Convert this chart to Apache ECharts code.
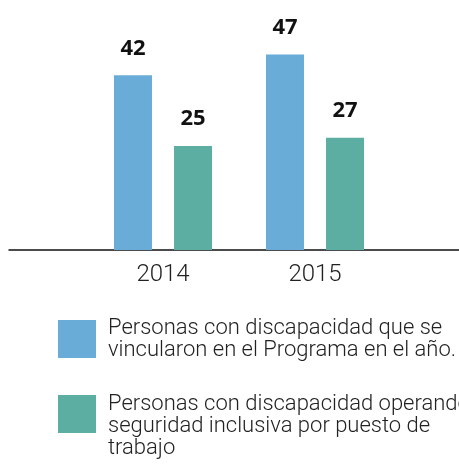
<!DOCTYPE html>
<html>
<head>
    <meta charset="utf-8">
    <title>ECharts</title>
    <script src="https://cdn.jsdelivr.net/npm/echarts@6/dist/echarts.min.js"></script>
    <style>
        html, body { margin: 0; padding: 0; background: #fff; }
    </style>
</head>
<body>
    <div id="main" style="width: 459px;height:464px;"></div>
    <script type="text/javascript">
        var years = ['2014', '2015'];
        var vinculados = [42, 47];
        var operando = [25, 27];
        var nameVinculados = 'Personas con discapacidad que se\nvincularon en el Programa en el año.';
        var nameOperando = 'Personas con discapacidad operando\nseguridad inclusiva por puesto de\ntrabajo';

        var textFont = 'Roboto, sans-serif';
        var numFont = '"Open Sans", sans-serif';
        var myChart = echarts.init(document.getElementById('main'));

        var legendText = {
            color: '#222',
            fontFamily: textFont,
            fontWeight: 300,
            fontSize: 22,
            lineHeight: 22,
            padding: [0, 0, 0, 7],
            rich: {
                p: { lineHeight: 24, fontSize: 1 }
            }
        };

        var barLabel = {
            show: true,
            position: 'top',
            distance: 16,
            color: '#111',
            fontFamily: numFont,
            fontWeight: 'bold',
            fontSize: 22
        };

        var option = {
            animation: false,
            grid: [
                { left: 87, right: 68, top: 42, bottom: 214 },
                { left: 9, right: 0, top: 42, bottom: 214 }
            ],
            legend: [
                {
                    data: [nameVinculados],
                    left: 58,
                    top: 317,
                    itemWidth: 38,
                    itemHeight: 38,
                    icon: 'rect',
                    padding: 0,
                    textStyle: legendText
                },
                {
                    data: [nameOperando],
                    left: 58,
                    top: 369,
                    itemWidth: 38,
                    itemHeight: 38,
                    icon: 'rect',
                    padding: 0,
                    formatter: function (name) {
                        return '{p|}\n' + name;
                    },
                    textStyle: legendText
                }
            ],
            xAxis: [
                {
                    type: 'category',
                    gridIndex: 0,
                    data: years,
                    axisLine: { show: false },
                    axisTick: { show: false },
                    axisLabel: {
                        color: '#222',
                        fontFamily: textFont,
                        fontWeight: 300,
                        fontSize: 24,
                        margin: 13
                    }
                },
                {
                    type: 'value',
                    gridIndex: 1,
                    min: 0,
                    max: 1,
                    axisLine: { show: true, lineStyle: { color: '#111', width: 1.5 } },
                    axisTick: { show: false },
                    axisLabel: { show: false },
                    splitLine: { show: false }
                }
            ],
            yAxis: [
                { type: 'value', gridIndex: 0, min: 0, max: 50, show: false },
                { type: 'value', gridIndex: 1, min: 0, max: 1, show: false }
            ],
            series: [
                {
                    name: nameVinculados,
                    type: 'bar',
                    data: vinculados,
                    barWidth: 38,
                    barGap: '58%',
                    itemStyle: { color: '#69acd7' },
                    label: barLabel
                },
                {
                    name: nameOperando,
                    type: 'bar',
                    data: operando,
                    barWidth: 38,
                    itemStyle: { color: '#5daea2' },
                    label: barLabel
                }
            ]
        };

        myChart.setOption(option);
    </script>
</body>
</html>
